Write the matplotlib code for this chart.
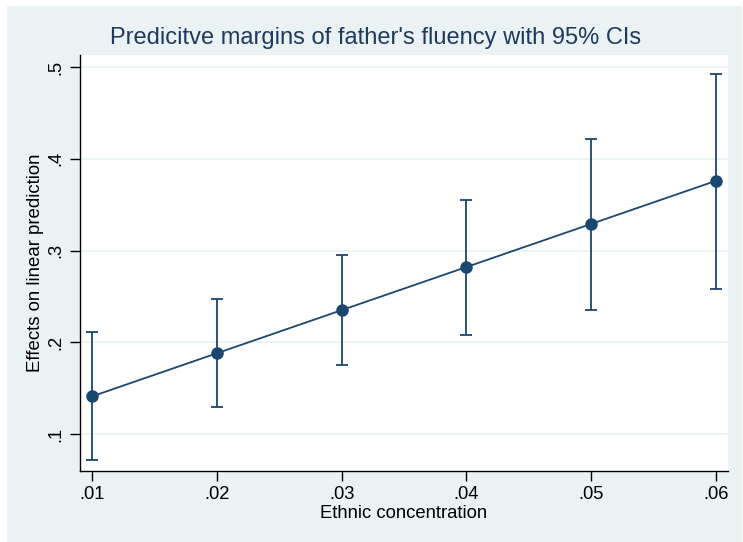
import matplotlib
matplotlib.use("Agg")
from matplotlib import pyplot as plt
from matplotlib.patches import Rectangle

# Data
conc = [0.01, 0.02, 0.03, 0.04, 0.05, 0.06]
margin = [0.141, 0.188, 0.235, 0.282, 0.329, 0.376]
ci_low = [0.072, 0.129, 0.175, 0.208, 0.235, 0.258]
ci_high = [0.211, 0.247, 0.295, 0.355, 0.422, 0.492]
xtick_labels = [".01", ".02", ".03", ".04", ".05", ".06"]
yticks = [0.1, 0.2, 0.3, 0.4, 0.5]
ytick_labels = [".1", ".2", ".3", ".4", ".5"]

NAVY = '#1a476f'
BG = '#eaf2f3'

plt.rcParams['font.family'] = ['Liberation Sans', 'DejaVu Sans']

fig = plt.figure(figsize=(7.43, 5.42), dpi=100)
fig.patch.set_facecolor('white')
fig.patches.append(Rectangle((7/743, 0), 735/743, 536/542, transform=fig.transFigure,
                             facecolor=BG, edgecolor='none', zorder=-10))

ax = fig.add_axes([80/743, 1-471/542, 648/743, 416/542])
ax.set_zorder(5)
ax.set_facecolor('white')

err_lo = [m - l for m, l in zip(margin, ci_low)]
err_hi = [h - m for m, h in zip(margin, ci_high)]
ax.errorbar(conc, margin, yerr=[err_lo, err_hi], fmt='none', ecolor=NAVY,
            elinewidth=1.3, capsize=4, capthick=1.3, zorder=3)
ax.plot(conc, margin, color=NAVY, lw=1.3, marker='o', ms=8, zorder=4)

ax.set_xlim(0.00904, 0.06096)
ax.set_ylim(0.0597, 0.5131)
ax.set_xticks(conc)
ax.set_xticklabels(xtick_labels)
ax.set_yticks(yticks)
ax.set_yticklabels(ytick_labels, rotation=90, va='center')
ax.yaxis.grid(True, color=BG, lw=1.2)
ax.set_axisbelow(True)

for s in ['top', 'right']:
    ax.spines[s].set_visible(False)
for s in ['left', 'bottom']:
    ax.spines[s].set_color('black')
    ax.spines[s].set_linewidth(1.0)
ax.tick_params(axis='both', direction='out', length=7, width=1, labelsize=13.2, pad=4)

ax.set_xlabel('Ethnic concentration', fontsize=13.3, labelpad=1)
ax.set_ylabel('Effects on linear prediction', fontsize=13.4, labelpad=3)
fig.text(376/743, 1-38/542, "Predicitve margins of father's fluency with 95% CIs",
         ha='center', va='center', fontsize=17, color='#1e3a5f')

fig.savefig('out.png', dpi=100, facecolor=fig.get_facecolor())
